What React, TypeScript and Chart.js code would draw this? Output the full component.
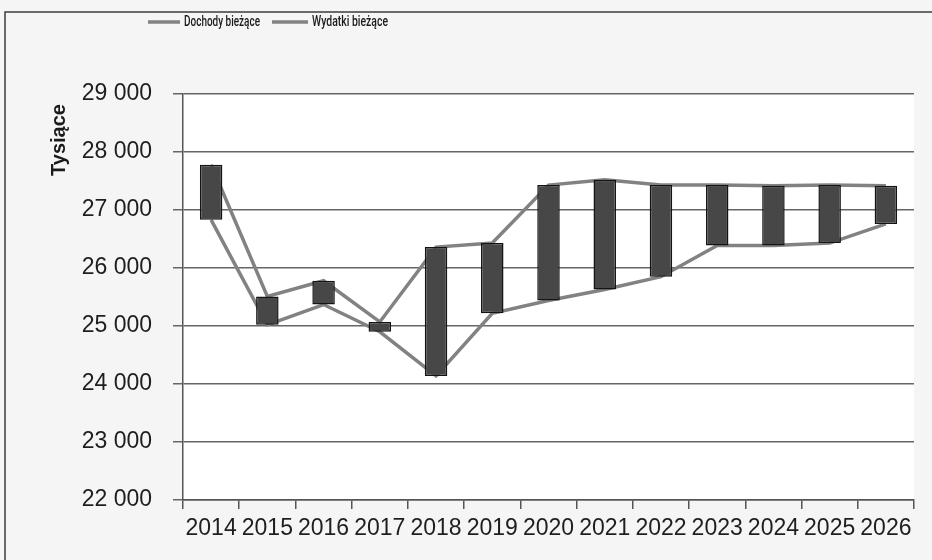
import React, { useEffect, useRef } from "react";
import { Chart, registerables } from "chart.js";

Chart.register(...registerables);

// ---- data ----
const years = ["2014", "2015", "2016", "2017", "2018", "2019", "2020", "2021", "2022", "2023", "2024", "2025", "2026"];
const dochody = [27780, 25510, 25780, 25070, 26360, 26430, 27430, 27520, 27430, 27430, 27420, 27430, 27420];
const wydatki = [26830, 25020, 25370, 24900, 24140, 25220, 25440, 25630, 25850, 26390, 26390, 26430, 26760];
const seriesNames = ["Dochody bieżące", "Wydatki bieżące"];
const yMin = 22000;
const yMax = 29000;
const yStep = 1000;
const yAxisTitle = "Tysiące";

const fmt = (v: number) => Math.round(v).toString().replace(/\B(?=(\d{3})+(?!\d))/g, " ");

const LINE_COLOR = "#828282";

const decorPlugin = {
  id: "decor",
  beforeDraw(chart: any) {
    const { ctx, width, height, chartArea } = chart;
    ctx.save();
    ctx.fillStyle = "#f5f5f5";
    ctx.fillRect(0, 0, width, height);
    ctx.fillStyle = "#ffffff";
    ctx.fillRect(chartArea.left, chartArea.top, chartArea.right - chartArea.left, chartArea.bottom - chartArea.top);
    // outer frame (top and left)
    ctx.strokeStyle = "#3c3c3c";
    ctx.lineWidth = 1.5;
    ctx.beginPath();
    ctx.moveTo(5, height);
    ctx.lineTo(5, 12);
    ctx.lineTo(width, 12);
    ctx.stroke();
    ctx.restore();
  },
  afterDraw(chart: any) {
    const { ctx } = chart;
    ctx.save();
    // y axis title
    ctx.translate(59, 140);
    ctx.rotate(-Math.PI / 2);
    ctx.font = "bold 20px 'Liberation Sans', Arial, sans-serif";
    ctx.fillStyle = "#1a1a1a";
    ctx.textAlign = "center";
    ctx.textBaseline = "middle";
    ctx.fillText(yAxisTitle, 0, 0);
    ctx.restore();

    // legend
    const items = [
      { x0: 148, x1: 180, tx: 184, tw: 76 },
      { x0: 272, x1: 308, tx: 312, tw: 76 },
    ];
    const lineSets = chart.data.datasets.filter((d: any) => d.type === "line");
    lineSets.forEach((ds: any, i: number) => {
      const it = items[i];
      if (!it) return;
      ctx.save();
      ctx.strokeStyle = ds.borderColor;
      ctx.lineWidth = 3.5;
      ctx.beginPath();
      ctx.moveTo(it.x0, 22);
      ctx.lineTo(it.x1, 22);
      ctx.stroke();
      ctx.font = "500 15px Roboto, 'Noto Sans', sans-serif";
      ctx.fillStyle = "#1a1a1a";
      ctx.textBaseline = "middle";
      const w = ctx.measureText(ds.label).width;
      ctx.translate(it.tx, 22);
      ctx.scale(it.tw / w, 1);
      ctx.fillText(ds.label, 0, 0);
      ctx.restore();
    });
  },
};

export default function App() {
  const ref = useRef<HTMLCanvasElement | null>(null);

  useEffect(() => {
    if (!ref.current) return;
    const chart = new Chart(ref.current, {
      type: "bar",
      data: {
        labels: years,
        datasets: [
          {
            type: "bar",
            label: "bars",
            data: years.map((_, i) => [wydatki[i], dochody[i]]) as any,
            backgroundColor: "#474747",
            borderColor: "#141414",
            borderWidth: 1.5,
            borderSkipped: false,
            barPercentage: 0.4,
            categoryPercentage: 1,
            order: 0,
          } as any,
          {
            type: "line",
            label: seriesNames[0],
            data: dochody,
            borderColor: LINE_COLOR,
            backgroundColor: LINE_COLOR,
            borderWidth: 3.5,
            pointRadius: 0,
            tension: 0,
            fill: false,
            order: 1,
          } as any,
          {
            type: "line",
            label: seriesNames[1],
            data: wydatki,
            borderColor: LINE_COLOR,
            backgroundColor: LINE_COLOR,
            borderWidth: 3.5,
            pointRadius: 0,
            tension: 0,
            fill: false,
            order: 1,
          } as any,
        ],
      },
      options: {
        responsive: false,
        animation: false,
        devicePixelRatio: 1,
        layout: { padding: { top: 94, right: 18, left: 0, bottom: 0 } },
        plugins: {
          legend: { display: false },
          tooltip: { enabled: false },
          title: { display: false },
        },
        scales: {
          x: {
            type: "category",
            offset: true,
            grid: {
              offset: true,
              drawOnChartArea: false,
              drawTicks: true,
              tickLength: 9,
              color: "#555555",
              lineWidth: 1.5,
            },
            border: { display: true, color: "#555555", width: 1.5 },
            ticks: {
              font: { family: "'Liberation Sans', Arial, sans-serif", size: 23 },
              color: "#1e1e1e",
              padding: 6,
              maxRotation: 0,
              autoSkip: false,
            },
            afterFit: (s: any) => {
              s.height = 60;
            },
          },
          y: {
            min: yMin,
            max: yMax,
            ticks: {
              stepSize: yStep,
              callback: (v: any) => fmt(Number(v)),
              font: { family: "'Liberation Sans', Arial, sans-serif", size: 23 },
              color: "#1e1e1e",
              padding: 21,
            },
            grid: {
              color: "#666666",
              lineWidth: 1.5,
              tickLength: 10,
              drawTicks: true,
            },
            border: { display: true, color: "#555555", width: 1.5 },
            afterFit: (s: any) => {
              s.width = 183;
            },
          },
        },
      },
      plugins: [decorPlugin],
    } as any);
    return () => chart.destroy();
  }, []);

  return (
    <div style={{ position: "fixed", left: 0, top: 0, width: 932, height: 560 }}>
      <canvas ref={ref} width={932} height={560} style={{ display: "block" }} />
    </div>
  );
}
